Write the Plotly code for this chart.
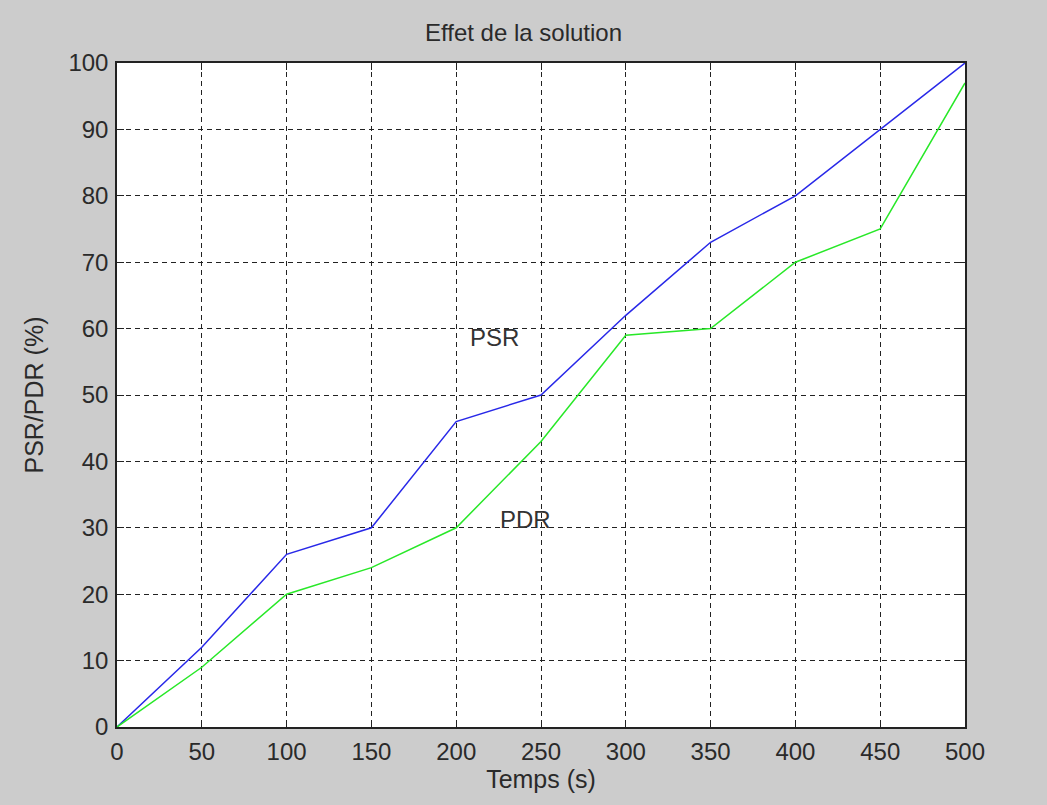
import plotly.graph_objects as go

temps = [0, 50, 100, 150, 200, 250, 300, 350, 400, 450, 500]
psr = [0, 12, 26, 30, 46, 50, 62, 73, 80, 90, 100]
pdr = [0, 9, 20, 24, 30, 43, 59, 60, 70, 75, 97]
x_ticks = [0, 50, 100, 150, 200, 250, 300, 350, 400, 450, 500]
y_ticks = [0, 10, 20, 30, 40, 50, 60, 70, 80, 90, 100]

FONT = "Liberation Sans, Arial, sans-serif"
TXT = "#2a2a2a"

fig = go.Figure()
fig.add_trace(go.Scatter(x=temps, y=psr, mode="lines", line=dict(color="#2828e8", width=1.5), name="PSR"))
fig.add_trace(go.Scatter(x=temps, y=pdr, mode="lines", line=dict(color="#28e828", width=1.5), name="PDR"))

fig.add_annotation(x=207, y=58.6, text="PSR", showarrow=False, xanchor="left", yanchor="middle",
                   font=dict(family=FONT, size=24, color="#333333"))
fig.add_annotation(x=224.5, y=31.2, text="PDR", showarrow=False, xanchor="left", yanchor="middle",
                   font=dict(family=FONT, size=24, color="#333333"))

axis_common = dict(
    showgrid=True, gridcolor="#222222", gridwidth=1.4, griddash="5px,4px",
    showline=True, linecolor="#222222", linewidth=1.5, mirror="ticks",
    ticks="inside", ticklen=7, tickcolor="#222222",
    zeroline=False,
    tickfont=dict(family=FONT, size=24, color=TXT),
)

fig.update_xaxes(range=[0, 500], tickvals=x_ticks, ticklabelstandoff=2,
                 title=dict(text="Temps (s)", font=dict(family=FONT, size=25, color=TXT), standoff=7),
                 **axis_common)
fig.update_yaxes(range=[0, 100], tickvals=y_ticks, ticklabelstandoff=2,
                 title=dict(text="PSR/PDR (%)", font=dict(family=FONT, size=25, color=TXT), standoff=18),
                 **axis_common)

fig.update_layout(
    width=1047, height=805,
    margin=dict(l=117, r=82, t=63, b=78, autoexpand=False),
    paper_bgcolor="#cccccc", plot_bgcolor="#ffffff",
    showlegend=False,
    title=dict(text="Effet de la solution", x=0.5, xanchor="center", y=1 - 33 / 805, yanchor="middle",
               font=dict(family=FONT, size=24, color=TXT)),
)

fig.write_html("out.html", config={"displayModeBar": False},
               post_script="document.body.style.margin='0';document.body.style.background='#cccccc';")
